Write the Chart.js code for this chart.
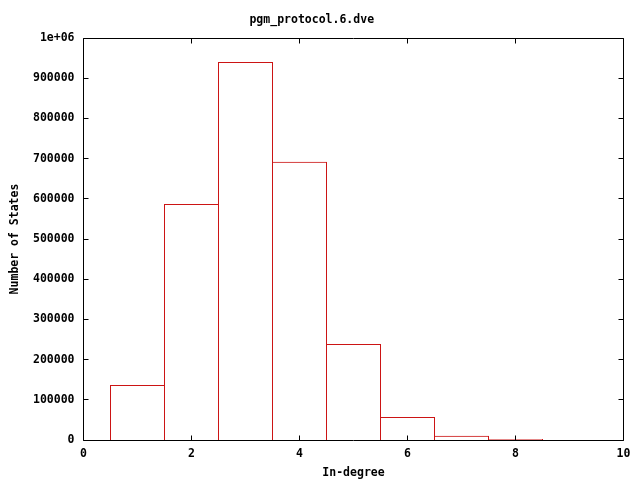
<!DOCTYPE html>
<html lang="en">
<head>
  <meta charset="UTF-8" />
  <title>pgm_protocol.6.dve</title>
  <script src="https://cdn.jsdelivr.net/npm/chart.js"></script>
  <style>
    body { margin: 0; background: #fff; }
    #wrap { width: 640px; height: 480px; }
  </style>
</head>
<body>
<div id="wrap"><canvas id="histChart"></canvas></div>

<script>
// in-degree histogram values
const inDegree = [1, 2, 3, 4, 5, 6, 7, 8];
const stateCounts = [137000, 587000, 940000, 692000, 239000, 57000, 10500, 2500];
const xTicks = [0, 2, 4, 6, 8, 10];
const yTicks = [0, 100000, 200000, 300000, 400000, 500000, 600000, 700000, 800000, 900000, 1000000];

const FONT = { family: 'DejaVu Sans Mono', size: 11.5, weight: 'bold' };

// gnuplot style frame with inward ticks on all sides
const framePlugin = {
  id: 'frame',
  afterDraw(chart) {
    const { ctx, chartArea: a, scales } = chart;
    const len = 5;
    const L = Math.floor(a.left) + 0.5, R = Math.floor(a.right) + 0.5;
    const T = Math.floor(a.top) + 0.5, B = Math.floor(a.bottom) + 0.5;
    ctx.save();
    ctx.strokeStyle = '#000';
    ctx.lineWidth = 1;
    ctx.beginPath();
    ctx.rect(L, T, R - L, B - T);
    xTicks.forEach(v => {
      const px = Math.floor(scales.x.getPixelForValue(v)) + 0.5;
      ctx.moveTo(px, B); ctx.lineTo(px, B - len);
      ctx.moveTo(px, T); ctx.lineTo(px, T + len);
    });
    yTicks.forEach(v => {
      const py = Math.floor(scales.y.getPixelForValue(v)) + 0.5;
      ctx.moveTo(L, py); ctx.lineTo(L + len, py);
      ctx.moveTo(R, py); ctx.lineTo(R - len, py);
    });
    ctx.stroke();
    ctx.restore();
  }
};

new Chart(document.getElementById('histChart'), {
  type: 'bar',
  data: {
    datasets: [{
      data: inDegree.map((d, i) => ({ x: d, y: stateCounts[i] })),
      backgroundColor: 'rgba(0,0,0,0)',
      borderColor: '#cc1414',
      borderWidth: 1,
      borderSkipped: 'bottom',
      barPercentage: 55 / 54,
      categoryPercentage: 1
    }]
  },
  options: {
    responsive: true,
    maintainAspectRatio: false,
    animation: false,
    layout: { padding: { left: 0, right: 16.5, top: 0, bottom: 0 } },
    plugins: {
      legend: { display: false },
      tooltip: { enabled: false },
      title: {
        display: true,
        text: 'pgm_protocol.6.dve',
        color: '#000',
        font: FONT,
        padding: { top: 13, bottom: 11.2 }
      }
    },
    scales: {
      x: {
        type: 'linear',
        min: 0,
        max: 10,
        offset: false,
        afterFit: s => { s.height = 40; },
        afterBuildTicks: s => { s.ticks = xTicks.map(v => ({ value: v })); },
        grid: { display: false, drawTicks: false, offset: false },
        border: { display: false },
        ticks: { color: '#000', font: FONT, padding: 7, maxRotation: 0 },
        title: { display: true, text: 'In-degree', color: '#000', font: FONT, padding: { top: 0, bottom: 0 } }
      },
      y: {
        min: 0,
        max: 1000000,
        afterFit: s => { s.width = 83.5; },
        afterBuildTicks: s => { s.ticks = yTicks.map(v => ({ value: v })); },
        grid: { display: false, drawTicks: false },
        border: { display: false },
        ticks: {
          color: '#000',
          font: FONT,
          padding: 9,
          callback: v => v === 1000000 ? '1e+06' : String(v)
        },
        title: { display: true, text: 'Number of States', color: '#000', font: FONT, padding: { top: 8, bottom: 0 } }
      }
    }
  },
  plugins: [framePlugin]
});
</script>
</body>
</html>
